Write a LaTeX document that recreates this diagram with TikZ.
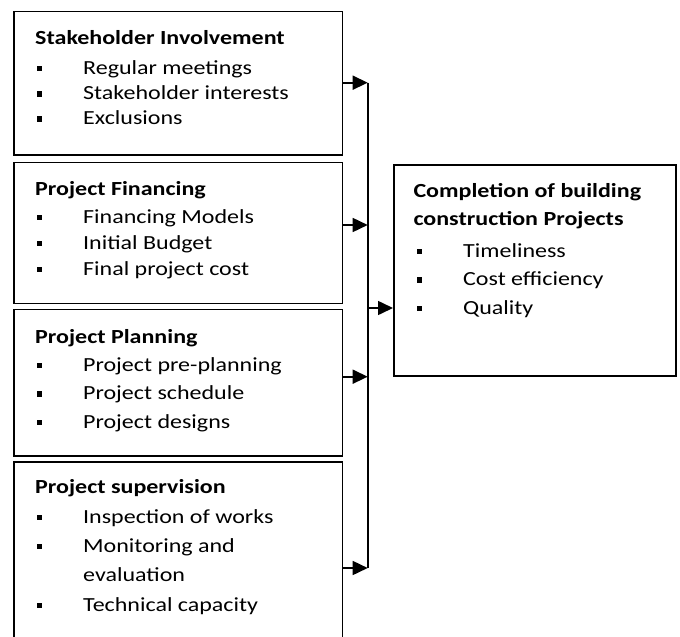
\documentclass[tikz,border=0pt]{standalone}
\usepackage{fontspec}
\setmainfont{Carlito}[FakeStretch=1.2]
\usetikzlibrary{arrows.meta}
\newcommand{\bitem}[4]{%
  \node[bul] (#1b) at (#2-43.5,#3-5.5) {};
  \node[it] (#1) at (#2,#3) {#4};}
\begin{document}
\begin{tikzpicture}[x=1pt,y=-1pt,
  box/.style={draw, line width=1.6pt, inner sep=0pt, anchor=north west},
  hd/.style={anchor=base west, inner sep=0pt, font=\fontsize{20}{24}\selectfont\bfseries},
  it/.style={anchor=base west, inner sep=0pt, font=\fontsize{20}{24}\selectfont},
  bul/.style={fill, minimum size=5.5pt, inner sep=0pt},
  arr/.style={-{Triangle[length=15pt,width=14pt]}, line width=1.6pt},
  bus/.style={line width=1.6pt}]
\useasboundingbox (0,0) rectangle (680,637);
% boxes
\node[box, minimum width=328.4pt, minimum height=143.3pt] (b1) at (13.3,10.7) {};
\node[box, minimum width=328.4pt, minimum height=141pt] (b2) at (13.3,161.7) {};
\node[box, minimum width=328.4pt, minimum height=146.3pt] (b3) at (13.3,308.7) {};
\node[box, minimum width=328.4pt, minimum height=190pt] (b4) at (13.3,461) {};
\node[box, minimum width=282pt, minimum height=211pt] (res) at (393,164) {};
% box 1
\node[hd] (h1) at (35,44.5) {Stakeholder Involvement};
\bitem{i11}{83}{74}{Regular meetings}
\bitem{i12}{83}{99.3}{Stakeholder interests}
\bitem{i13}{83}{124.3}{Exclusions}
% box 2
\node[hd] (h2) at (35,195.5) {Project Financing};
\bitem{i21}{83}{223}{Financing Models}
\bitem{i22}{83}{249}{Initial Budget}
\bitem{i23}{83}{275}{Final project cost}
% box 3
\node[hd] (h3) at (35,343) {Project Planning};
\bitem{i31}{83}{371}{Project pre-planning}
\bitem{i32}{83}{399.5}{Project schedule}
\bitem{i33}{83}{428}{Project designs}
% box 4
\node[hd] (h4) at (35,493.3) {Project supervision};
\bitem{i41}{83}{523}{Inspection of works}
\bitem{i42}{83}{552}{Monitoring and}
\node[it] (i42b2) at (83,581) {evaluation};
\bitem{i43}{83}{611}{Technical capacity}
% result box
\node[hd] (hr1) at (413.3,197.3) {Completion of building};
\node[hd] (hr2) at (413.3,225) {construction Projects};
\bitem{ir1}{463}{257}{Timeliness}
\bitem{ir2}{463}{285.5}{Cost efficiency}
\bitem{ir3}{463}{314}{Quality}
% connectors
\coordinate (p1) at (367.7,82.7);
\coordinate (p2) at (367.7,225);
\coordinate (p3) at (367.7,376.7);
\coordinate (p4) at (367.7,568);
\coordinate (pr) at (367.7,308);
\draw[bus] (p1) -- (p4);
\draw[arr] (b1.east |- p1) -- (p1);
\draw[arr] (b2.east |- p2) -- (p2);
\draw[arr] (b3.east |- p3) -- (p3);
\draw[arr] (b4.east |- p4) -- (p4);
\draw[arr] (pr) -- (res.west |- pr);
\end{tikzpicture}
\end{document}
